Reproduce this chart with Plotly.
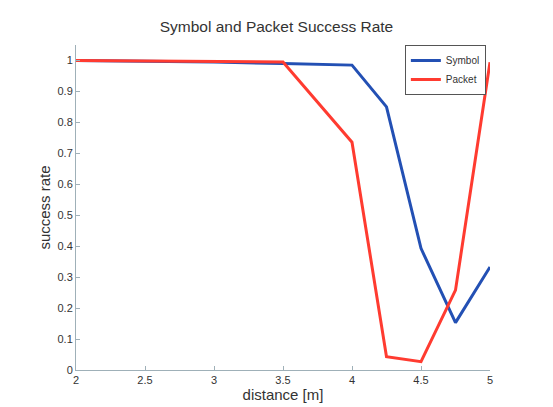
import plotly.graph_objects as go

distance = [2, 2.5, 3, 3.5, 4, 4.25, 4.5, 4.75, 5]
symbol_rate = [1.0, 0.998, 0.995, 0.99, 0.985, 0.85, 0.393, 0.153, 0.333]
packet_rate = [1.0, 0.999, 0.998, 0.995, 0.736, 0.043, 0.027, 0.258, 0.994]
x_ticks = [2, 2.5, 3, 3.5, 4, 4.5, 5]
y_ticks = [0, 0.1, 0.2, 0.3, 0.4, 0.5, 0.6, 0.7, 0.8, 0.9, 1]

font_family = "Liberation Sans, Arial, sans-serif"
axis_color = "#9fb0b8"

fig = go.Figure()
fig.add_trace(go.Scatter(x=distance, y=symbol_rate, mode="lines", name="Symbol",
                         line=dict(color="#2350b4", width=3)))
fig.add_trace(go.Scatter(x=distance, y=packet_rate, mode="lines", name="Packet",
                         line=dict(color="#ff3b30", width=3)))

fig.update_layout(
    width=553, height=407,
    margin=dict(l=76, r=63, t=45, b=37, autoexpand=False),
    paper_bgcolor="white", plot_bgcolor="white",
    font=dict(family=font_family, color="#333333"),
    title=dict(text="Symbol and Packet Success Rate", x=0.5, xanchor="center",
               y=0.935, yanchor="middle", font=dict(size=15.5, color="#333333")),
    showlegend=True,
    legend=dict(x=0.99, xanchor="right", y=1.0, yanchor="top",
                bgcolor="white", bordercolor="#555555", borderwidth=1,
                font=dict(size=10, color="#333333"),
                tracegroupgap=0, itemwidth=30),
    xaxis=dict(range=[2, 5], tickvals=x_ticks, ticktext=[str(v) for v in x_ticks],
               automargin=False,
               showgrid=False, zeroline=False, showline=True, linecolor=axis_color,
               linewidth=1, ticks="inside", ticklen=4, tickcolor=axis_color,
               tickfont=dict(size=11, color="#333333"),
               title=dict(text="distance [m]", font=dict(size=15, color="#333333"), standoff=2)),
    yaxis=dict(range=[0, 1.05], tickvals=y_ticks, ticktext=[str(v) for v in y_ticks],
               automargin=False,
               showgrid=False, zeroline=False, showline=True, linecolor=axis_color,
               linewidth=1, ticks="inside", ticklen=4, tickcolor=axis_color,
               tickfont=dict(size=11, color="#333333"),
               title=dict(text="success rate", font=dict(size=15, color="#333333"), standoff=3)),
)

fig.write_html("out.html")
